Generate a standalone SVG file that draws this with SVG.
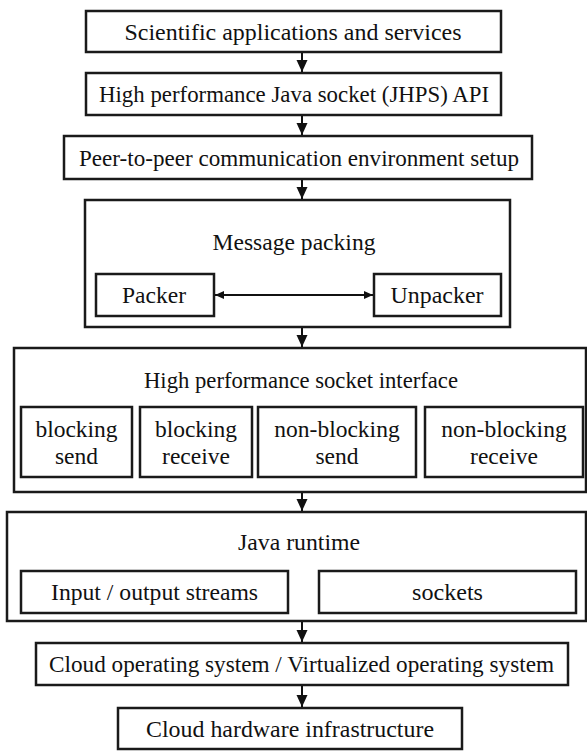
<svg xmlns="http://www.w3.org/2000/svg" width="587" height="751" viewBox="0 0 587 751">
<style>
.b{fill:#fff;stroke:#1a1a1a;stroke-width:2.5}
.t{font-size:23.5px;fill:#111;text-anchor:middle}
.c{stroke:#111;stroke-width:2;fill:none}
</style>
<defs>
<marker id="ah" markerUnits="userSpaceOnUse" markerWidth="12" markerHeight="12" viewBox="0 0 12 12" refX="12" refY="6" orient="auto">
<path d="M0,0.5 L12,6 L0,11.5 Z" fill="#111"/>
</marker>
<marker id="ahs" markerUnits="userSpaceOnUse" markerWidth="9" markerHeight="9" viewBox="0 0 9 9" refX="9" refY="4.5" orient="auto-start-reverse">
<path d="M0,0.5 L9,4.5 L0,8.5 Z" fill="#111"/>
</marker>
</defs>
<rect width="587" height="751" fill="#fff"/>
<g font-family="Liberation Serif, Times New Roman, serif">
<g id="n1">
<rect class="b" x="86" y="11" width="415" height="41"/>
<text class="t" x="293" y="40" textLength="337" lengthAdjust="spacingAndGlyphs">Scientific applications and services</text>
</g>
<g id="n2">
<rect class="b" x="86" y="73" width="415" height="42"/>
<text class="t" x="294" y="102" textLength="390" lengthAdjust="spacingAndGlyphs">High performance Java socket (JHPS) API</text>
</g>
<g id="n3">
<rect class="b" x="64" y="136" width="468" height="43"/>
<text class="t" x="299" y="166" textLength="440" lengthAdjust="spacingAndGlyphs">Peer-to-peer communication environment setup</text>
</g>
<g id="n4">
<rect class="b" x="85" y="200" width="425" height="127"/>
<text class="t" x="294" y="250" textLength="163" lengthAdjust="spacingAndGlyphs">Message packing</text>
<g id="n4a">
<rect class="b" x="96" y="274" width="118" height="42"/>
<text class="t" x="154" y="303" textLength="64" lengthAdjust="spacingAndGlyphs">Packer</text>
</g>
<g id="n4b">
<rect class="b" x="374" y="274" width="127" height="42"/>
<text class="t" x="437" y="303" textLength="93" lengthAdjust="spacingAndGlyphs">Unpacker</text>
</g>
</g>
<g id="n5">
<rect class="b" x="14" y="348" width="572" height="144"/>
<text class="t" x="301" y="388" textLength="314" lengthAdjust="spacingAndGlyphs">High performance socket interface</text>
<g id="n5a">
<rect class="b" x="21" y="407" width="111" height="70"/>
<text class="t" x="76.5" y="437">blocking</text>
<text class="t" x="76.5" y="464">send</text>
</g>
<g id="n5b">
<rect class="b" x="140" y="407" width="112" height="70"/>
<text class="t" x="196" y="437">blocking</text>
<text class="t" x="196" y="464">receive</text>
</g>
<g id="n5c">
<rect class="b" x="258" y="407" width="158" height="70"/>
<text class="t" x="337" y="437">non-blocking</text>
<text class="t" x="337" y="464">send</text>
</g>
<g id="n5d">
<rect class="b" x="425" y="407" width="158" height="70"/>
<text class="t" x="504" y="437">non-blocking</text>
<text class="t" x="504" y="464">receive</text>
</g>
</g>
<g id="n6">
<rect class="b" x="7" y="512" width="579" height="109"/>
<text class="t" x="299" y="550" textLength="122" lengthAdjust="spacingAndGlyphs">Java runtime</text>
<g id="n6a">
<rect class="b" x="21" y="571" width="267" height="42"/>
<text class="t" x="154.5" y="600" textLength="207" lengthAdjust="spacingAndGlyphs">Input / output streams</text>
</g>
<g id="n6b">
<rect class="b" x="319" y="571" width="257" height="42"/>
<text class="t" x="447.5" y="600" textLength="71" lengthAdjust="spacingAndGlyphs">sockets</text>
</g>
</g>
<g id="n7">
<rect class="b" x="36" y="643" width="532" height="42"/>
<text class="t" x="301.5" y="672" textLength="505" lengthAdjust="spacingAndGlyphs">Cloud operating system / Virtualized operating system</text>
</g>
<g id="n8">
<rect class="b" x="118" y="708" width="344" height="41"/>
<text class="t" x="290" y="737" textLength="288" lengthAdjust="spacingAndGlyphs">Cloud hardware infrastructure</text>
</g>
</g>
<g id="connectors">
<line class="c" x1="302" y1="53" x2="302" y2="72" marker-end="url(#ah)"/>
<line class="c" x1="302" y1="116" x2="302" y2="135" marker-end="url(#ah)"/>
<line class="c" x1="302" y1="180" x2="302" y2="199" marker-end="url(#ah)"/>
<line class="c" x1="302" y1="328" x2="302" y2="347" marker-end="url(#ah)"/>
<line class="c" x1="302" y1="493" x2="302" y2="511" marker-end="url(#ah)"/>
<line class="c" x1="302" y1="622" x2="302" y2="642" marker-end="url(#ah)"/>
<line class="c" x1="302" y1="686" x2="302" y2="707" marker-end="url(#ah)"/>
<line class="c" x1="215" y1="295" x2="373" y2="295" marker-start="url(#ahs)" marker-end="url(#ahs)"/>
</g>
</svg>
